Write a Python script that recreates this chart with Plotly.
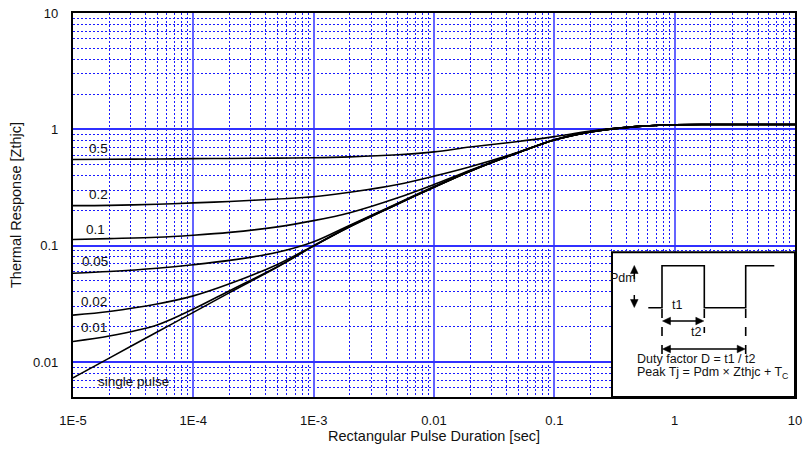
import plotly.graph_objects as go

# ---- data ----
pulse_t = [1e-5, 2e-5, 5e-5, 1e-4, 2e-4, 5e-4, 1e-3, 2e-3, 5e-3, 0.01, 0.02, 0.05,
           0.1, 0.2, 0.5, 1, 2, 5, 10]

z_d050 = [0.551, 0.553, 0.556, 0.560, 0.562, 0.566, 0.570, 0.580, 0.605, 0.640, 0.705, 0.785,
          0.865, 0.965, 1.06, 1.095, 1.10, 1.10, 1.10]
z_d020 = [0.221, 0.222, 0.227, 0.233, 0.240, 0.252, 0.263, 0.288, 0.336, 0.396, 0.477, 0.635,
          0.815, 0.955, 1.06, 1.095, 1.10, 1.10, 1.10]
z_d010 = [0.113, 0.115, 0.118, 0.123, 0.130, 0.145, 0.164, 0.192, 0.258, 0.336, 0.445, 0.632,
          0.812, 0.952, 1.06, 1.095, 1.10, 1.10, 1.10]
z_d005 = [0.058, 0.060, 0.064, 0.0686, 0.0747, 0.0877, 0.108, 0.150, 0.232, 0.322, 0.440, 0.631,
          0.811, 0.951, 1.06, 1.095, 1.10, 1.10, 1.10]
z_d002 = [0.0253, 0.0272, 0.0315, 0.037, 0.047, 0.069, 0.100, 0.147, 0.229, 0.319, 0.437, 0.630,
          0.810, 0.950, 1.06, 1.095, 1.10, 1.10, 1.10]
z_d001 = [0.015, 0.0167, 0.0208, 0.0285, 0.0410, 0.066, 0.0995, 0.146, 0.228, 0.318, 0.437, 0.630,
          0.810, 0.950, 1.06, 1.095, 1.10, 1.10, 1.10]
z_single = [0.0073, 0.0108, 0.0181, 0.0267, 0.0395, 0.0655, 0.099, 0.145, 0.228, 0.318, 0.437, 0.630,
            0.810, 0.950, 1.06, 1.095, 1.10, 1.10, 1.10]

series = [z_d050, z_d020, z_d010, z_d005, z_d002, z_d001, z_single]
series_labels = ["0.5", "0.2", "0.1", "0.05", "0.02", "0.01", "single pulse"]

x_tickvals = [1e-5, 1e-4, 1e-3, 0.01, 0.1, 1, 10]
x_ticktext = ["1E-5", "1E-4", "1E-3", "0.01", "0.1", "1", "10"]
y_tickvals = [0.01, 0.1, 1, 10]
y_ticktext = ["0.01", "0.1", "1", "10"]

# ---- figure ----
W, H = 803, 451
ML, MR, MT, MB = 73, 8, 13, 54
PW, PH = W - ML - MR, H - MT - MB
FONT = "Liberation Sans, Arial, sans-serif"


def px(x):
    return (x - ML) / PW


def py(y):
    return (H - MB - y) / PH


fig = go.Figure()
for s in series:
    fig.add_trace(go.Scatter(x=pulse_t, y=s, mode="lines",
                             line=dict(color="black", width=1.6, shape="spline", smoothing=0.9),
                             showlegend=False, hoverinfo="skip"))

# curve labels (placed in data coords, log axes)
label_pos = [(-4.792, -0.164), (-4.792, -0.560), (-4.809, -0.862), (-4.817, -1.138),
             (-4.825, -1.483), (-4.825, -1.707), (-4.501, -2.172)]
annotations = []
for txt, (lx, ly) in zip(series_labels, label_pos):
    annotations.append(dict(x=lx, y=ly, xref="x", yref="y", text=txt, showarrow=False,
                            font=dict(family=FONT, size=13.5, color="#111")))

shapes = []
# inset box
shapes.append(dict(type="rect", xref="paper", yref="paper", x0=px(612), x1=px(795),
                   y0=py(397), y1=py(252.3), fillcolor="white",
                   line=dict(color="black", width=2), layer="above"))
# waveform
wave = [(648.3, 307.7), (662, 307.7), (662, 265.7), (704.3, 265.7), (704.3, 307.7),
        (745.7, 307.7), (745.7, 265.7), (774.3, 265.7)]
path = "M " + " L ".join(f"{px(a):.5f},{py(b):.5f}" for a, b in wave)
shapes.append(dict(type="path", xref="paper", yref="paper", path=path,
                   line=dict(color="black", width=1.6), layer="above"))
# dashed verticals
for xx, yb in [(662, 359), (704.3, 333), (745.7, 359)]:
    shapes.append(dict(type="line", xref="paper", yref="paper", x0=px(xx), x1=px(xx),
                       y0=py(309), y1=py(yb), line=dict(color="black", width=1.6, dash="dash"),
                       layer="above"))


def head(tipx, tipy, dx, dy, L=8.0, hw=3.8):
    """filled triangle arrowhead, tip at (tipx, tipy), pointing along (dx, dy) (pixels)"""
    n = (dx * dx + dy * dy) ** 0.5
    ux, uy = dx / n, dy / n
    bx, by = tipx - ux * L, tipy - uy * L
    p1 = (bx - uy * hw, by + ux * hw)
    p2 = (bx + uy * hw, by - ux * hw)
    pts = [(tipx, tipy), p1, p2]
    return dict(type="path", xref="paper", yref="paper", layer="above",
                path="M " + " L ".join(f"{px(a):.5f},{py(b):.5f}" for a, b in pts) + " Z",
                fillcolor="black", line=dict(color="black", width=0.5))


def seg(x0, y0, x1, y1):
    return dict(type="line", xref="paper", yref="paper", x0=px(x0), y0=py(y0), x1=px(x1), y1=py(y1),
                line=dict(color="black", width=1.5), layer="above")


# Pdm arrows
shapes += [seg(634.3, 272, 634.3, 279), head(634.3, 265.5, 0, -1),
           seg(634.3, 295, 634.3, 301), head(634.3, 307.5, 0, 1)]
# t1 / t2 double arrows
shapes += [seg(668, 321, 698, 321), head(662.5, 321, -1, 0), head(703.8, 321, 1, 0),
           seg(668, 349, 740, 349), head(662.5, 349, -1, 0), head(745.2, 349, 1, 0)]

inset_font = dict(family=FONT, size=12.5, color="#111")
annotations += [
    dict(xref="paper", yref="paper", x=px(637.5), y=py(287), text="Pdm", showarrow=False,
         font=inset_font),
    dict(xref="paper", yref="paper", x=px(684.3), y=py(314), text="t1", showarrow=False, font=inset_font),
    dict(xref="paper", yref="paper", x=px(703.3), y=py(341), text="t2", showarrow=False, font=inset_font),
    dict(xref="paper", yref="paper", x=px(635), y=py(368), xanchor="left", text="Duty factor D = t1 / t2",
         showarrow=False, font=inset_font),
    dict(xref="paper", yref="paper", x=px(635), y=py(383), xanchor="left",
         text="Peak Tj = Pdm \u00d7 Zthjc + T<sub>C</sub>", showarrow=False, font=inset_font),
]

grid_minor = "#1a1aff"

fig.update_layout(
    width=W, height=H,
    margin=dict(l=ML, r=MR, t=MT, b=MB, autoexpand=False),
    paper_bgcolor="white", plot_bgcolor="white",
    font=dict(family=FONT, size=13, color="#111"),
    shapes=shapes, annotations=annotations,
    xaxis=dict(type="log", range=[-5, 1], tickvals=x_tickvals, ticktext=x_ticktext,
               showline=True, linecolor="black", linewidth=2.2, mirror=True,
               ticks="", ticklabelstandoff=10, automargin=False,
               showgrid=True, gridcolor="#6464ff", gridwidth=1.8, zeroline=False,
               minor=dict(dtick="D1", showgrid=True, gridcolor=grid_minor, gridwidth=1,
                          griddash="2px,2px", ticks=""),
               title=dict(text="Rectangular Pulse Duration [sec]", font=dict(size=14.5), standoff=4),
               tickfont=dict(size=13)),
    yaxis=dict(type="log", range=[-2.301, 1], tickvals=y_tickvals, ticktext=y_ticktext,
               showline=True, linecolor="black", linewidth=2.2, mirror=True,
               ticks="", ticklabelstandoff=10, automargin=False,
               showgrid=True, gridcolor="#3030ff", gridwidth=1.5, zeroline=False,
               minor=dict(dtick="D1", showgrid=True, gridcolor=grid_minor, gridwidth=1,
                          griddash="2px,2px", ticks=""),
               title=dict(text="Thermal Response [Zthjc]", font=dict(size=14.5), standoff=8),
               tickfont=dict(size=13)),
)

fig.write_html("out.html", config={"displayModeBar": False},
               post_script="document.body.style.margin='0';document.body.style.overflow='hidden';")
